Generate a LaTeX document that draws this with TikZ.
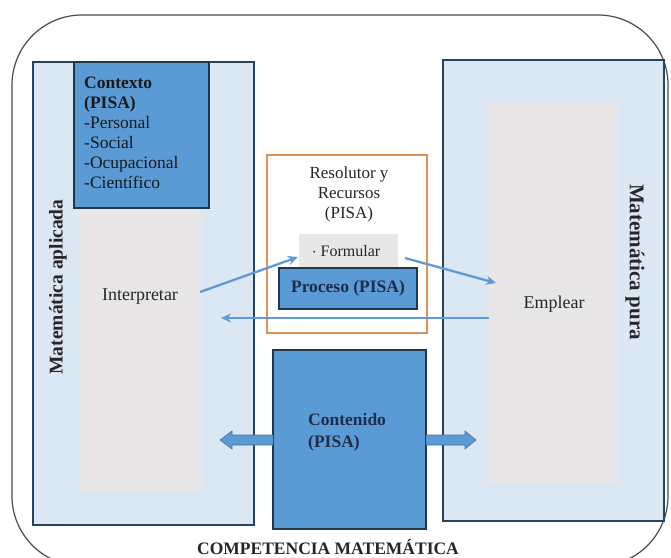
\documentclass[tikz,border=0pt]{standalone}
\usepackage{fontspec}
\setmainfont{Liberation Serif}
\usetikzlibrary{arrows.meta}
\definecolor{lblue}{HTML}{DCE7F4}
\definecolor{mblue}{HTML}{5B9BD5}
\definecolor{dblue}{HTML}{41719C}
\definecolor{lgray}{HTML}{E8E6E6}
\definecolor{arrblue}{HTML}{5E9AD6}
\definecolor{navy}{HTML}{1F2D4A}
\definecolor{orng}{HTML}{DE9255}
\tikzset{
  panel/.style={draw=dblue!60!black, line width=1.1pt, fill=lblue},
  graybox/.style={fill=lgray, draw=none},
  bluebox/.style={draw=dblue!50!black, line width=1.1pt, fill=mblue},
  thinarrow/.style={draw=arrblue, line width=2.3pt, -{Stealth[length=10pt,width=9pt]}},
  blockarrow/.style={fill=mblue, draw=dblue, line width=0.6pt},
  lbl/.style={font=\fontsize{18}{20}\selectfont, text=black!85},
}
\begin{document}
\begin{tikzpicture}[x=1pt,y=-1pt]
\useasboundingbox (0,0) rectangle (671,557);
\begin{scope}
\clip (0,0) rectangle (671,557);
% outer
\draw[draw=black!70, line width=1.2pt, rounded corners=70pt] (12,15) rectangle (668,566);
\end{scope}
% left panel
\draw[panel] (33,62) rectangle (254,525);
\fill[graybox] (79,208) rectangle (202,492);
\draw[bluebox] (74,62) rectangle (209,208);
\node[anchor=north west, align=left, inner sep=0pt, font=\fontsize{17.5}{20}\selectfont, text=black!90] (ctx) at (84,77)
  {\textbf{Contexto}\\\textbf{(PISA)}\\-Personal\\-Social\\-Ocupacional\\-Científico};
\node[rotate=90, font=\bfseries\fontsize{19.5}{22}\selectfont, text=black!85] (apl) at (58,287) {Matemática aplicada};
\node[lbl] (interp) at (140,297) {Interpretar};
% right panel
\draw[panel] (443,60) rectangle (664,521);
\fill[graybox] (487,102) rectangle (618,483);
\node[rotate=-90, font=\bfseries\fontsize{21}{24}\selectfont, text=black!85] (pura) at (635,262) {Matemática pura};
\node[lbl] (empl) at (554,304) {Emplear};
% center orange box
\draw[draw=orng, line width=1.1pt, fill=white] (267,155) rectangle (427,333);
\node[align=center, font=\fontsize{17}{20}\selectfont, text=black!85] (res) at (349,194) {Resolutor y\\Recursos\\(PISA)};
\fill[graybox] (299,234) rectangle (398,268);
\node[font=\fontsize{16}{18}\selectfont, text=black!85] (form) at (346,251) {$\cdot$ Formular};
\draw[bluebox] (279,268) rectangle (417,309);
\node[font=\bfseries\fontsize{17.5}{20}\selectfont, text=navy] (proc) at (348,288) {Proceso (PISA)};
% contenido
\draw[bluebox] (273,350) rectangle (426,529);
\node[anchor=west, align=left, inner sep=0pt, font=\bfseries\fontsize{17.5}{22}\selectfont, text=navy] (cont) at (308,432) {Contenido\\(PISA)};
% thin arrows
\coordinate (a1s) at (200,292);
\coordinate (a1e) at (298,257);
\coordinate (a2s) at (405,258);
\coordinate (a2e) at (496,283);
\coordinate (a3s) at (489,318);
\coordinate (a3e) at (221,318);
\draw[thinarrow] (a1s) -- (a1e);
\draw[thinarrow] (a2s) -- (a2e);
\draw[thinarrow] (a3s) -- (a3e);
% block arrows
\draw[blockarrow] (273,435) -- (232,435) -- (232,431) -- (220,440) -- (232,449) -- (232,445) -- (273,445);
\draw[blockarrow] (426,435) -- (465,435) -- (465,431) -- (476,440) -- (465,449) -- (465,445) -- (426,445);
% title
\node[font=\bfseries\fontsize{17.5}{20}\selectfont, text=black!85] (title) at (328,547) {COMPETENCIA MATEMÁTICA};
\end{tikzpicture}
\end{document}
